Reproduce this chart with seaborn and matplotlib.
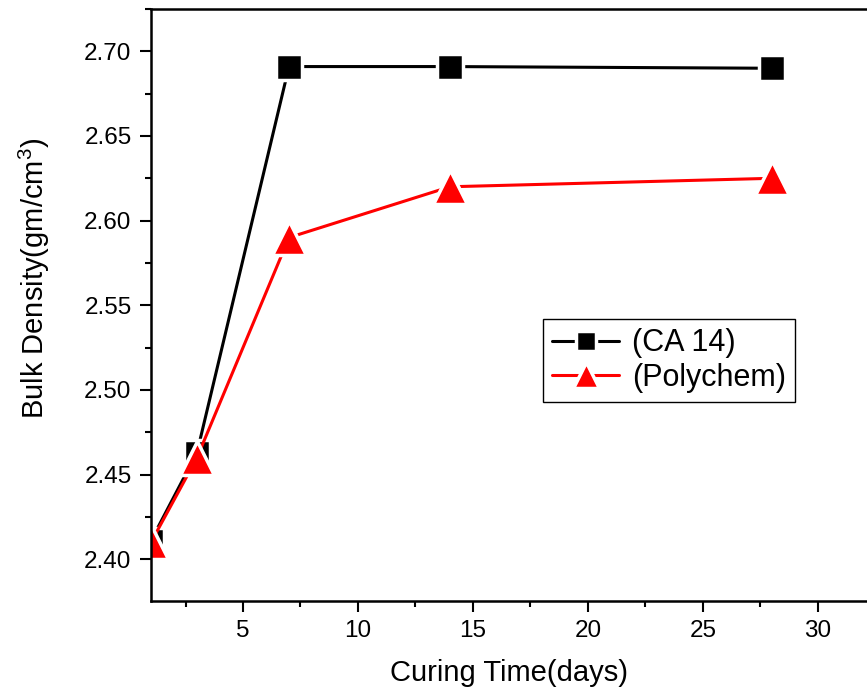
import matplotlib
matplotlib.use("Agg")
import matplotlib.pyplot as plt
import seaborn as sns
from matplotlib.ticker import MultipleLocator, FormatStrFormatter

# --- Données ---
days = [1, 3, 7, 14, 28]
ca14 = [2.411, 2.463, 2.691, 2.691, 2.690]
polychem = [2.410, 2.460, 2.590, 2.620, 2.625]

sns.set_style("white")
plt.rcParams["font.family"] = ["Liberation Sans", "DejaVu Sans"]
plt.rcParams["mathtext.fontset"] = "custom"
plt.rcParams["mathtext.rm"] = "Liberation Sans"
plt.rcParams["text.color"] = "black"
plt.rcParams["axes.labelcolor"] = "black"
plt.rcParams["xtick.color"] = "black"
plt.rcParams["ytick.color"] = "black"

fig = plt.figure(figsize=(8.67, 6.98), dpi=100)
ax = fig.add_axes([0.1742, 0.1394, 0.8258, 0.8477])

sns.lineplot(x=days, y=ca14, ax=ax, color="black", linewidth=2.2,
             marker="s", markersize=19, markeredgecolor="white",
             markeredgewidth=2.5, label="(CA 14)")
sns.lineplot(x=days, y=polychem, ax=ax, color="red", linewidth=2.2,
             marker="^", markersize=25, markeredgecolor="white",
             markeredgewidth=2.5, label="(Polychem)")

ax.set_xlim(1, 32.14)
ax.set_ylim(2.3755, 2.725)
ax.xaxis.set_major_locator(MultipleLocator(5))
ax.xaxis.set_minor_locator(MultipleLocator(2.5))
ax.yaxis.set_major_locator(MultipleLocator(0.05))
ax.yaxis.set_minor_locator(MultipleLocator(0.025))
ax.yaxis.set_major_formatter(FormatStrFormatter("%.2f"))

ax.tick_params(axis="both", which="major", direction="out", length=8,
               width=1.5, labelsize=17.5, colors="black", pad=6,
               bottom=True, left=True)
ax.tick_params(axis="both", which="minor", direction="out", length=4.5,
               width=1.5, colors="black", bottom=True, left=True)

for side in ["left", "bottom", "top"]:
    ax.spines[side].set_visible(True)
    ax.spines[side].set_color("black")
    ax.spines[side].set_linewidth(1.8)
ax.spines["right"].set_visible(False)

ax.set_xlabel("Curing Time(days)", fontsize=21, labelpad=12)
ax.set_ylabel("Bulk Density(gm/cm$^3$)", fontsize=21)
ax.yaxis.set_label_coords(-0.139, 0.544)

leg = ax.legend(loc="upper left", bbox_to_anchor=(0.5475, 0.476),
                borderaxespad=0, fontsize=22, frameon=True, fancybox=False,
                framealpha=1, edgecolor="black", handlelength=2.2,
                handletextpad=0.4, borderpad=0.3, labelspacing=0.15,
                markerscale=0.75)
leg.get_frame().set_linewidth(1.0)
for t in leg.get_texts():
    t.set_color("black")

plt.savefig("out.png", dpi=100)
